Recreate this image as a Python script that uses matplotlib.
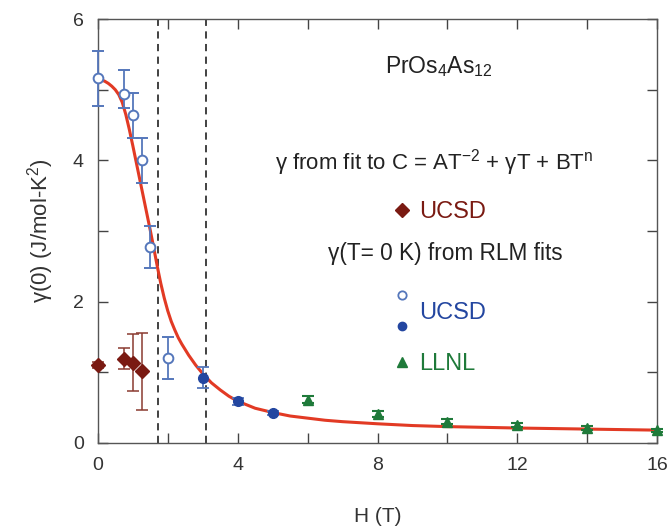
import numpy as np
import matplotlib.pyplot as plt
from matplotlib.lines import Line2D
from matplotlib.legend_handler import HandlerBase

plt.rcParams['font.family'] = ['Liberation Sans', 'DejaVu Sans']
plt.rcParams['mathtext.fontset'] = 'custom'
plt.rcParams['mathtext.rm'] = 'Liberation Sans'
plt.rcParams['mathtext.it'] = 'Liberation Sans'

# UCSD, gamma from C = AT^-2 + gT + BT^n fits (diamonds)
h_fit = [0.0, 0.75, 1.0, 1.25]
g_fit = [1.10, 1.19, 1.13, 1.02]
g_fit_lo = [0.04, 0.15, 0.40, 0.55]
g_fit_hi = [0.04, 0.16, 0.41, 0.54]

# UCSD, RLM fits, open circles
h_open = [0.0, 0.75, 1.0, 1.25, 1.5, 2.0]
g_open = [5.16, 4.94, 4.64, 4.00, 2.78, 1.20]
g_open_lo = [0.39, 0.20, 0.33, 0.32, 0.31, 0.29]
g_open_hi = [0.39, 0.34, 0.32, 0.31, 0.29, 0.30]

# UCSD, RLM fits, filled circles
h_fill = [3.0, 4.0, 5.0]
g_fill = [0.92, 0.59, 0.42]
g_fill_err = [0.15, 0.05, 0.03]

# LLNL, triangles
h_llnl = [6, 8, 10, 12, 14, 16]
g_llnl = [0.61, 0.41, 0.30, 0.25, 0.21, 0.18]
g_llnl_err = [0.05, 0.04, 0.04, 0.03, 0.03, 0.02]

# red guide curve
h_curve = [0.0, 0.1, 0.2, 0.3, 0.4, 0.5, 0.6, 0.7, 0.8, 0.9, 1.0, 1.1, 1.2, 1.3, 1.4,
           1.5, 1.6, 1.7, 1.8, 1.9, 2.0, 2.1, 2.2, 2.3, 2.4, 2.5, 2.6, 2.7, 2.8, 2.9,
           3.0, 3.25, 3.5, 3.75, 4.0, 4.5, 5.0, 5.5, 6.0, 6.5, 7.0, 8.0, 9.0, 10.0,
           12.0, 14.0, 16.0]
g_curve = [5.15, 5.14, 5.12, 5.09, 5.05, 5.00, 4.93, 4.82, 4.65, 4.44, 4.21, 3.97, 3.73, 3.49, 3.25,
           3.01, 2.76, 2.50, 2.26, 2.05, 1.87, 1.72, 1.60, 1.49, 1.40, 1.32, 1.24, 1.17, 1.10, 1.04,
           0.98, 0.85, 0.75, 0.66, 0.59, 0.49, 0.43, 0.38, 0.35, 0.32, 0.30, 0.27, 0.245, 0.23,
           0.21, 0.195, 0.18]

# dashed vertical markers
h_dash = [1.71, 3.09]

red = '#e23a24'
brown = '#7a1a12'
blue = '#2346a0'
blue_open = '#5577bb'
green = '#1f7a3a'


class StackedCircles(HandlerBase):
    def create_artists(self, legend, orig_handle, xdescent, ydescent,
                       width, height, fontsize, trans):
        top, bottom = orig_handle
        x = width / 2 - xdescent
        a = Line2D([x], [height * 1.45], marker='o', markersize=6,
                   markerfacecolor='white', markeredgecolor=blue_open,
                   markeredgewidth=1.3, linestyle='none', transform=trans)
        b = Line2D([x], [-height * 0.4], marker='o', markersize=6,
                   color=blue, linestyle='none', transform=trans)
        return [a, b]


fig = plt.figure(figsize=(6.7, 5.31), dpi=100)
ax = fig.add_axes([0.146, 0.166, 0.835, 0.798])

ax.plot(h_curve, g_curve, color=red, lw=2.2, zorder=2)
for h in h_dash:
    ax.axvline(h, color='#333333', lw=1.3, ls=(0, (4, 3)), zorder=1)

ax.errorbar(h_fit, g_fit, yerr=[g_fit_lo, g_fit_hi], fmt='D', color=brown,
            ms=7, ecolor='#8a3a30', elinewidth=1.1, capsize=4, capthick=1.1,
            zorder=3, clip_on=False)
ax.errorbar(h_open, g_open, yerr=[g_open_lo, g_open_hi], fmt='o', mfc='white',
            mec=blue_open, mew=1.4, ms=7, ecolor=blue_open, elinewidth=1.3,
            capsize=4, capthick=1.3, zorder=4, clip_on=False)
ax.errorbar(h_fill, g_fill, yerr=g_fill_err, fmt='o', color=blue, ms=7,
            ecolor=blue_open, elinewidth=1.3, capsize=4, capthick=1.3, zorder=4)
ax.errorbar(h_llnl, g_llnl, yerr=g_llnl_err, fmt='^', color=green, ms=7,
            ecolor=green, elinewidth=1.3, capsize=4, capthick=1.5, zorder=4, clip_on=False)

ax.set_xlim(0, 16)
ax.set_ylim(0, 6)
ax.set_xticks(np.arange(0, 17, 4))
ax.set_xticks(np.arange(0, 17, 2), minor=True)
ax.set_yticks([0, 2, 4, 6])
ax.set_yticks(np.arange(0, 7, 1), minor=True)
ax.tick_params(which='both', direction='in', top=True, right=True,
               color='#444444', width=1.0, labelsize=14, labelcolor='#333333', pad=10)
ax.tick_params(which='major', length=7)
ax.tick_params(which='minor', length=7)
for s in ax.spines.values():
    s.set_color('#555555')
    s.set_linewidth(1.0)

ax.set_xlabel('H (T)', fontsize=15, color='#333333', labelpad=24)
ax.set_ylabel(r'γ(0) (J/mol-K$^{2}$)', fontsize=16, color='#333333', labelpad=12)

ax.text(0.513, 0.873, r'PrOs$_{4}$As$_{12}$', transform=ax.transAxes,
        fontsize=16.5, color='#222222', ha='left', va='baseline')
ax.text(0.3166, 0.644, r'γ from fit to C = AT$^{-2}$ + γT + BT$^{n}$',
        transform=ax.transAxes, fontsize=16, color='#222222', ha='left', va='baseline')
ax.text(0.4115, 0.4316, 'γ(T= 0 K) from RLM fits', transform=ax.transAxes,
        fontsize=16.3, color='#222222', ha='left', va='baseline')

common = dict(frameon=False, fontsize=17, handlelength=0.9, handletextpad=0.3,
              borderpad=0, borderaxespad=0, loc='center left')

h1 = Line2D([], [], marker='D', color=brown, ms=7, ls='none')
leg1 = ax.legend([h1], ['UCSD'], bbox_to_anchor=(0.5245, 0.544), **common)
for t in leg1.get_texts():
    t.set_color(brown)
ax.add_artist(leg1)

h2o = Line2D([], [], marker='o', mfc='white', mec=blue_open, ls='none')
h2f = Line2D([], [], marker='o', color=blue, ls='none')
leg2 = ax.legend([(h2o, h2f)], ['UCSD'], bbox_to_anchor=(0.5245, 0.306),
                 handler_map={tuple: StackedCircles()}, **common)
for t in leg2.get_texts():
    t.set_color(blue)
ax.add_artist(leg2)

h3 = Line2D([], [], marker='^', color=green, ms=7, ls='none')
leg3 = ax.legend([h3], ['LLNL'], bbox_to_anchor=(0.5245, 0.186), **common)
for t in leg3.get_texts():
    t.set_color(green)

fig.savefig('out.png', dpi=100)
